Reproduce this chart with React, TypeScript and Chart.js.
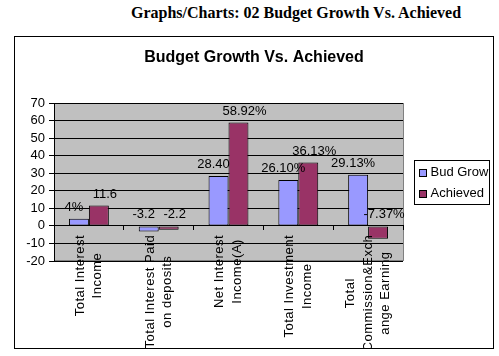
import React, { useEffect, useRef } from 'react';
import { Chart, registerables } from 'chart.js';

Chart.register(...registerables);

const pageTitle = 'Graphs/Charts: 02 Budget Growth Vs. Achieved';
const chartTitle = 'Budget Growth Vs. Achieved';
const categories: string[][] = [
  ['Total Interest', 'Income'],
  ['Total Interest Paid', 'on deposits'],
  ['Net Interest', 'Income(A)'],
  ['Total Investment', 'Income'],
  ['Total', 'Commission&Exch', 'ange Earning'],
];
const seriesNames = ['Bud Grow', 'Achieved'];
const budGrow = [4, -3.2, 28.4, 26.1, 29.13];
const achieved = [11.6, -2.2, 58.92, 36.13, -7.37];
const budGrowLabels = ['4%', '-3.2', '28.40', '26.10%', '29.13%'];
const achievedLabels = ['11.6', '-2.2', '58.92%', '36.13%', '-7.37%'];
const valueLabels = [budGrowLabels, achievedLabels];
const yMin = -20;
const yMax = 70;
const yStep = 10;

const FONT = "'Liberation Sans', Arial, Helvetica, sans-serif";

const plotBg = {
  id: 'plotBg',
  beforeDraw(chart: any) {
    const { ctx, chartArea: a } = chart;
    ctx.save();
    ctx.fillStyle = '#C0C0C0';
    ctx.fillRect(a.left, a.top, a.right - a.left, a.bottom - a.top);
    ctx.strokeStyle = '#808080';
    ctx.lineWidth = 1;
    ctx.strokeRect(Math.round(a.left) + 0.5, Math.round(a.top) + 0.5, Math.round(a.right - a.left), Math.round(a.bottom - a.top) - 1);
    ctx.restore();
  },
};

const dataLabels = {
  id: 'dataLabels',
  afterDatasetsDraw(chart: any) {
    const { ctx } = chart;
    const y0 = chart.scales.y.getPixelForValue(0);
    ctx.save();
    ctx.font = `13px ${FONT}`;
    ctx.fillStyle = '#000';
    ctx.textAlign = 'center';
    ctx.textBaseline = 'bottom';
    chart.data.datasets.forEach((ds: any, di: number) => {
      const meta = chart.getDatasetMeta(di);
      const dx = di === 0 ? -5 : 6;
      meta.data.forEach((bar: any, i: number) => {
        const v = ds.data[i];
        const top = v >= 0 ? bar.y : y0;
        ctx.fillText(valueLabels[di][i], bar.x + dx, top - 5);
      });
    });
    ctx.restore();
  },
};

const categoryLabels = {
  id: 'categoryLabels',
  afterDraw(chart: any) {
    const { ctx } = chart;
    const xs = chart.scales.x;
    const y0 = chart.scales.y.getPixelForValue(0);
    ctx.save();
    ctx.font = `13px ${FONT}`;
    (ctx as any).letterSpacing = '0.5px';
    ctx.fillStyle = '#000';
    ctx.textAlign = 'center';
    ctx.textBaseline = 'middle';
    const lineH = 17.5;
    categories.forEach((lines, i) => {
      const cx = xs.getPixelForValue(i);
      const maxW = Math.max(...lines.map((l) => ctx.measureText(l).width));
      const cy = y0 + 9 + maxW / 2;
      lines.forEach((line, j) => {
        const lx = cx + (j - (lines.length - 1) / 2) * lineH;
        ctx.save();
        ctx.translate(lx, cy);
        ctx.rotate(-Math.PI / 2);
        ctx.fillText(line, 0, 0);
        ctx.restore();
      });
    });
    ctx.restore();
  },
};

const boxLegend = {
  id: 'boxLegend',
  afterDraw(chart: any) {
    const { ctx, chartArea: a } = chart;
    const w = 76;
    const h = 45;
    const left = Math.round(a.right + 11);
    const top = Math.round((a.top + a.bottom) / 2 - h / 2);
    ctx.save();
    ctx.fillStyle = '#fff';
    ctx.fillRect(left, top, w, h);
    ctx.strokeStyle = '#000';
    ctx.lineWidth = 1;
    ctx.strokeRect(left + 0.5, top + 0.5, w - 1, h - 1);
    ctx.font = `13px ${FONT}`;
    ctx.textBaseline = 'middle';
    ctx.textAlign = 'left';
    chart.data.datasets.forEach((ds: any, i: number) => {
      const cy = top + 12.5 + i * 21;
      const sx = left + 5;
      const sy = Math.round(cy - 3.5);
      ctx.fillStyle = ds.backgroundColor;
      ctx.fillRect(sx, sy, 7, 7);
      ctx.strokeRect(sx + 0.5, sy + 0.5, 7, 7);
      ctx.fillStyle = '#000';
      ctx.fillText(ds.label, left + 16.5, cy);
    });
    ctx.restore();
  },
};

export default function App() {
  const ref = useRef<HTMLCanvasElement | null>(null);
  useEffect(() => {
    if (!ref.current) return;
    const chart = new Chart(ref.current, {
      type: 'bar',
      data: {
        labels: categories,
        datasets: [
          {
            label: seriesNames[0],
            data: budGrow,
            backgroundColor: '#9999FF',
            borderColor: '#000',
            borderWidth: 1,
            borderSkipped: false,
            categoryPercentage: 0.5714,
            barPercentage: 1,
          },
          {
            label: seriesNames[1],
            data: achieved,
            backgroundColor: '#993366',
            borderColor: '#000',
            borderWidth: 1,
            borderSkipped: false,
            categoryPercentage: 0.5714,
            barPercentage: 1,
          },
        ],
      },
      options: {
        responsive: false,
        animation: false,
        devicePixelRatio: 1,
        layout: { padding: { left: 0, right: 0, top: 0, bottom: 87 } },
        plugins: {
          legend: { display: false },
          tooltip: { enabled: false },
          title: {
            display: true,
            text: chartTitle,
            color: '#000',
            font: { family: FONT, size: 16, weight: 'bold' },
            padding: { top: 11.4, bottom: 35.4 },
          },
        },
        scales: {
          x: {
            type: 'category',
            position: { y: 0 } as any,
            offset: true,
            grid: { display: true, drawOnChartArea: false, drawTicks: true, tickLength: 4, color: '#000', offset: true },
            border: { display: true, color: '#000', width: 1 },
            ticks: { display: false },
            afterFit: (s: any) => { s.height = 0; },
          },
          y: {
            min: yMin,
            max: yMax,
            ticks: { stepSize: yStep, autoSkip: false, color: '#000', font: { family: FONT, size: 13 }, padding: 4 },
            grid: { color: '#000', tickLength: 5, lineWidth: 1 },
            border: { color: '#000' },
            afterFit: (s: any) => { s.width = 39; },
          },
          spacer: {
            type: 'linear',
            axis: 'y',
            position: 'right',
            display: true,
            grid: { display: false, drawTicks: false },
            border: { display: false },
            ticks: { display: false },
            afterFit: (s: any) => { s.width = 90; },
          },
        },
      } as any,
      plugins: [plotBg, dataLabels, categoryLabels, boxLegend],
    });
    return () => chart.destroy();
  }, []);

  return (
    <div style={{ position: 'absolute', left: 0, top: 0, width: 499, height: 356, background: '#fff', overflow: 'hidden' }}>
      <div
        style={{
          position: 'absolute', left: 131, top: 5, fontFamily: "'Liberation Serif', 'Times New Roman', serif",
          fontWeight: 'bold', fontSize: 16, lineHeight: '16px', whiteSpace: 'nowrap', color: '#000',
        }}
      >
        {pageTitle}
      </div>
      <div
        style={{
          position: 'absolute', left: 14, top: 36, width: 480, height: 313, border: '1px solid #000',
          boxSizing: 'border-box', overflow: 'hidden', background: '#fff',
        }}
      >
        <canvas ref={ref} width={478} height={311} style={{ display: 'block', width: 478, height: 311 }} />
      </div>
    </div>
  );
}
